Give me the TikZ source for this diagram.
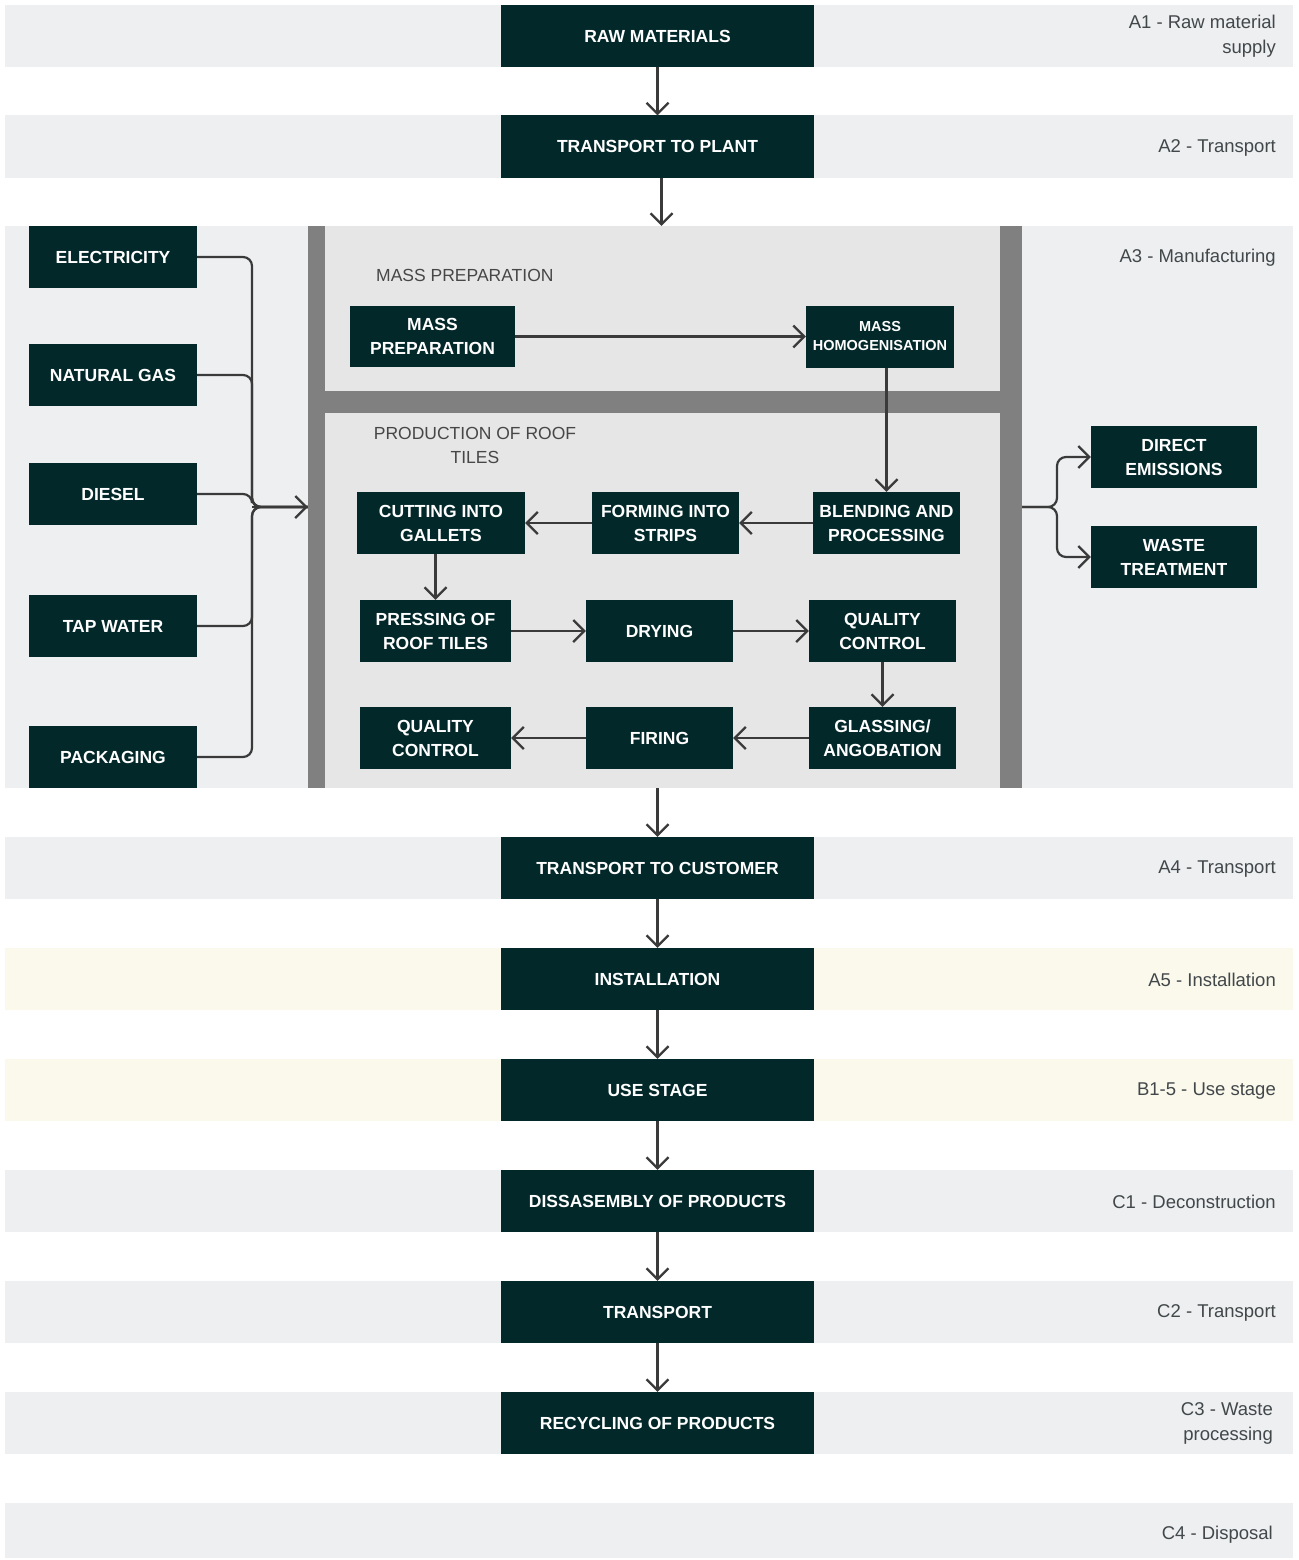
\documentclass[tikz,border=0pt]{standalone}
\usepackage{fontspec}
\setmainfont{Liberation Sans}
\usetikzlibrary{arrows.meta}
\definecolor{boxc}{HTML}{03282A}
\definecolor{bandg}{HTML}{EDEFF1}
\definecolor{bandc}{HTML}{FAF9EC}
\definecolor{panelin}{HTML}{E6E6E6}
\definecolor{panelbar}{HTML}{808080}
\definecolor{linec}{HTML}{3A3A3A}
\definecolor{labc}{HTML}{42474A}
\begin{document}
\begin{tikzpicture}[x=1pt,y=-1pt,
 box/.style={fill=boxc, text=white, font=\bfseries\fontsize{17.5}{24}\selectfont, align=center, inner sep=0pt, minimum height=62pt},
 mainbox/.style={box, minimum width=313pt},
 inbox/.style={box, minimum width=168pt},
 arr/.style={draw=linec, line width=2.2pt, -{Straight Barb[length=11pt,width=22pt]}},
 conn/.style={draw=linec, line width=2.2pt, rounded corners=9pt},
 side/.style={text=labc, font=\fontsize{18.5}{24.5}\selectfont, align=right, anchor=east, inner sep=0pt},
 sect/.style={text=black!72, font=\fontsize{17.5}{24}\selectfont, inner sep=0pt}]

\useasboundingbox (0,0) rectangle (1298,1560);
\fill[white] (0,0) rectangle (1298,1560);

% bands
\fill[bandg] (5,5) rectangle (1293,67);
\fill[bandg] (5,115) rectangle (1293,178);
\fill[bandg] (5,226) rectangle (1293,788);
\fill[bandg] (5,837) rectangle (1293,899);
\fill[bandc] (5,948) rectangle (1293,1010);
\fill[bandc] (5,1059) rectangle (1293,1121);
\fill[bandg] (5,1170) rectangle (1293,1232);
\fill[bandg] (5,1281) rectangle (1293,1343);
\fill[bandg] (5,1392) rectangle (1293,1454);
\fill[bandg] (5,1503) rectangle (1293,1558);

% side labels
\node[side] (l1) at (1276,36) {A1 - Raw material\\supply};
\node[side] (l2) at (1276,148) {A2 - Transport};
\node[side] (l3) at (1276,258) {A3 - Manufacturing};
\node[side] (l4) at (1276,869) {A4 - Transport};
\node[side] (l5) at (1276,980) {A5 - Installation};
\node[side] (l6) at (1276,1091) {B1-5 - Use stage};
\node[side] (l7) at (1276,1202) {C1 - Deconstruction};
\node[side] (l8) at (1276,1313) {C2 - Transport};
\node[side] (l9) at (1273,1423.5) {C3 - Waste\\processing};
\node[side] (l10) at (1273,1535) {C4 - Disposal};

% manufacturing panel
\node[fill=panelbar, minimum width=714pt, minimum height=562pt, inner sep=0pt] (a3) at (665,507) {};
\fill[panelin] (325,226) rectangle (1000,391);
\fill[panelin] (325,413) rectangle (1000,788);
\node[sect, anchor=west] (lmp) at (376,275) {MASS PREPARATION};
\node[sect, align=center] (lpr) at (475,445) {PRODUCTION OF ROOF\\TILES};

% main column
\node[mainbox] (raw) at (657.5,36) {RAW MATERIALS};
\node[mainbox] (tp) at (657.5,146.5) {TRANSPORT TO PLANT};
\node[mainbox] (tc) at (657.5,868) {TRANSPORT TO CUSTOMER};
\node[mainbox] (inst) at (657.5,979) {INSTALLATION};
\node[mainbox] (use) at (657.5,1090) {USE STAGE};
\node[mainbox] (dis) at (657.5,1201) {DISSASEMBLY OF PRODUCTS};
\node[mainbox] (trn) at (657.5,1312) {TRANSPORT};
\node[mainbox] (rec) at (657.5,1423) {RECYCLING OF PRODUCTS};

% inputs
\node[inbox] (elec) at (113,257) {ELECTRICITY};
\node[inbox] (gas) at (113,375) {NATURAL GAS};
\node[inbox] (diesel) at (113,494) {DIESEL};
\node[inbox] (tap) at (113,626) {TAP WATER};
\node[inbox] (pack) at (113,757) {PACKAGING};

% outputs
\node[box, minimum width=166pt] (de) at (1174,457) {DIRECT\\EMISSIONS};
\node[box, minimum width=166pt] (wt) at (1174,557) {WASTE\\TREATMENT};

% panel boxes
\node[box, minimum width=165pt, minimum height=61pt] (mp) at (432.5,336.5) {MASS\\PREPARATION};
\node[box, minimum width=148pt, font=\bfseries\fontsize{14.5}{19}\selectfont] (mh) at (880,336.5) {MASS\\HOMOGENISATION};
\node[box, minimum width=147pt] (blend) at (886.5,523) {BLENDING AND\\PROCESSING};
\node[box, minimum width=147pt] (form) at (665.5,523) {FORMING INTO\\STRIPS};
\node[box, minimum width=168pt] (cut) at (441,523) {CUTTING INTO\\GALLETS};
\node[box, minimum width=151pt] (press) at (435.5,631) {PRESSING OF\\ROOF TILES};
\node[box, minimum width=147pt] (dry) at (659.5,631) {DRYING};
\node[box, minimum width=147pt] (qc1) at (882.5,631) {QUALITY\\CONTROL};
\node[box, minimum width=147pt] (glass) at (882.5,738) {GLASSING/\\ANGOBATION};
\node[box, minimum width=147pt] (fire) at (659.5,738) {FIRING};
\node[box, minimum width=151pt] (qc2) at (435.5,738) {QUALITY\\CONTROL};

% main arrows
\draw[arr] (raw) -- (tp);
\coordinate (tpx) at ([xshift=4pt]tp.south);
\draw[arr] (tpx) -- (tpx |- a3.north);
\draw[arr] (tc.north |- a3.south) -- (tc.north);
\draw[arr] (tc) -- (inst);
\draw[arr] (inst) -- (use);
\draw[arr] (use) -- (dis);
\draw[arr] (dis) -- (trn);
\draw[arr] (trn) -- (rec);

% inputs to panel
\coordinate (merge) at (252,507);
\foreach \n in {elec,gas,diesel,tap,pack}
  \draw[conn] (\n.east) -| (merge) -- (a3.west);
\draw[arr] (merge) -- (a3.west);

% panel to outputs
\coordinate (split) at (1057,507);
\draw[arr, rounded corners=9pt] (a3.east) -- (split) |- (de.west);
\draw[arr, rounded corners=9pt] (a3.east) -- (split) |- (wt.west);

% internal flow
\draw[arr] (mp.east) -- (mh.west);
\draw[arr] (mh.south -| blend.north) -- (blend.north);
\draw[arr] (blend) -- (form);
\draw[arr] (form) -- (cut);
\draw[arr] (cut.south -| press.north) -- (press.north);
\draw[arr] (press) -- (dry);
\draw[arr] (dry) -- (qc1);
\draw[arr] (qc1) -- (glass);
\draw[arr] (glass) -- (fire);
\draw[arr] (fire) -- (qc2);
\end{tikzpicture}
\end{document}
